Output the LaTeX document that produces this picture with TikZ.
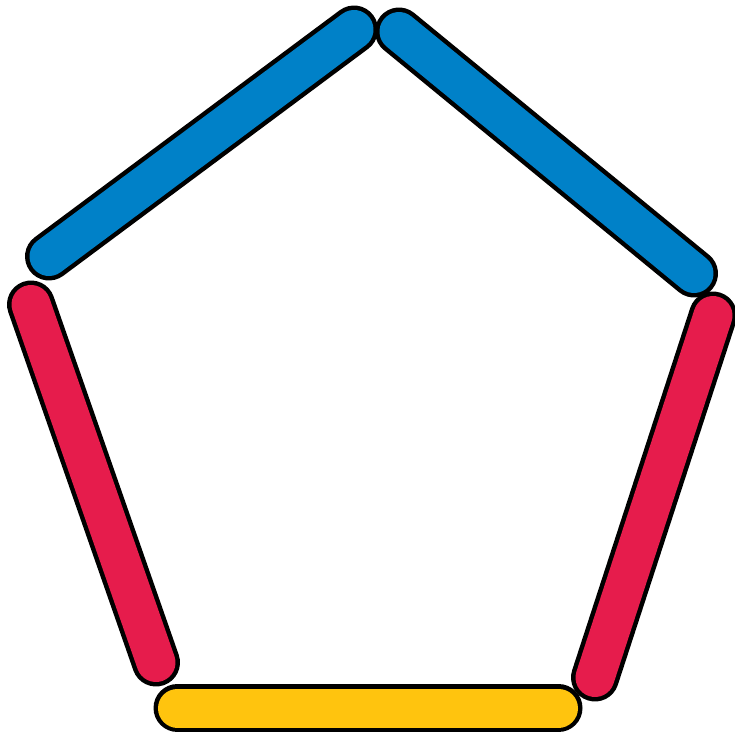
\documentclass[tikz,border=0pt]{standalone}
\definecolor{stickblue}{RGB}{0,129,200}
\definecolor{stickred}{RGB}{230,28,76}
\definecolor{stickyellow}{RGB}{255,196,14}
\tikzset{
  stickout/.style={line width=48pt, line cap=round, draw=black},
  stickin/.style={line width=39pt, line cap=round, draw=#1},
}
\newcommand{\stick}[3]{%
  \draw[stickout] (#1) -- (#2);
  \draw[stickin=#3] (#1) -- (#2);
}
\begin{document}
\begin{tikzpicture}[x=1pt,y=-1pt]
\useasboundingbox (0,0) rectangle (735,736);
\coordinate (ya) at (177.5,708);
\coordinate (yb) at (558.5,708);
\coordinate (la) at (31,304.5);
\coordinate (lb) at (156,662.5);
\coordinate (ra) at (713,315.5);
\coordinate (rb) at (595,677.5);
\coordinate (ba) at (49,256.5);
\coordinate (bb) at (354,29.5);
\coordinate (ca) at (399,31.5);
\coordinate (cb) at (694,273.5);
\stick{ya}{yb}{stickyellow}
\stick{la}{lb}{stickred}
\stick{ra}{rb}{stickred}
\stick{ba}{bb}{stickblue}
\stick{ca}{cb}{stickblue}
\end{tikzpicture}
\end{document}
